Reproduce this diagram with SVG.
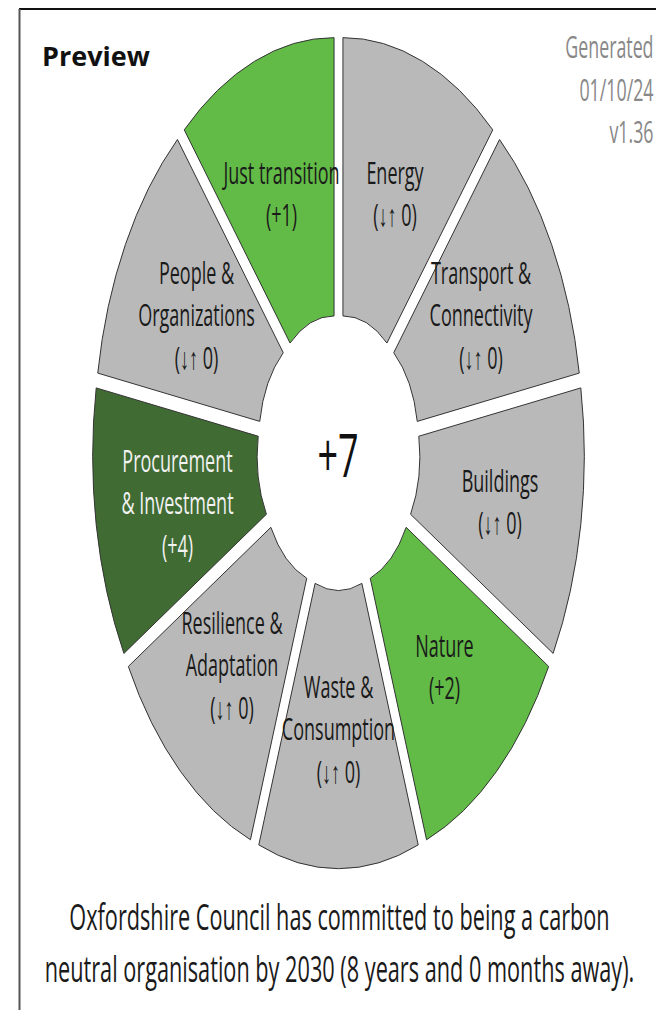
<svg xmlns="http://www.w3.org/2000/svg" width="656" height="1010" viewBox="0 0 656 1010">
<style>
.seg{stroke:#333;stroke-width:1;stroke-linejoin:miter}
.grey{fill:#b9b9b9}
.lg{fill:#62bb47}
.dg{fill:#406c34}
.lbl{font-family:"Open Sans","Liberation Sans",sans-serif;font-size:18px;text-anchor:middle;fill:#1a1a1a}
.lblw{fill:#f2f2f2}
.meta{font-family:"Open Sans","Liberation Sans",sans-serif;font-size:17.8px;text-anchor:end;fill:#888}
.foot{font-family:"Open Sans","Liberation Sans",sans-serif;font-size:21.7px;text-anchor:middle;fill:#1a1a1a}
</style>
<rect x="0" y="0" width="656" height="1010" fill="#fff"/>
<line x1="19" y1="9" x2="656" y2="9" stroke="#111" stroke-width="2.2"/>
<line x1="19.5" y1="9" x2="19.5" y2="1010" stroke="#555" stroke-width="2"/>
<text x="42" y="66" font-family="Open Sans, Liberation Sans, sans-serif" font-size="27" font-weight="bold" fill="#111">Preview</text>
<g transform="translate(653.5,58) scale(1,1.692)">
<text class="meta"><tspan x="0" y="0">Generated</tspan><tspan x="0" y="25.2">01/10/24</tspan><tspan x="0" y="50.1">v1.36</tspan></text>
</g>
<g id="connectors"></g>
<g id="energy">
<path class="seg grey" d="M342.95,37.63 A233,394.2 0 0 1 492.75,129.83 L386.95,343.03 A68.5,115.9 0 0 0 342.95,315.93 Z"/>
<g transform="translate(395,184) scale(1,1.692)"><text class="lbl"><tspan x="0" y="0">Energy</tspan><tspan x="0" y="25">(↓↑ 0)</tspan></text></g>
</g>
<g id="transport">
<path class="seg grey" d="M499.56,139.5 A233,394.2 0 0 1 579.26,373.1 L417.26,421.4 A68.5,115.9 0 0 0 393.76,352.7 Z"/>
<g transform="translate(481,284) scale(1,1.692)"><text class="lbl"><tspan x="0" y="0">Transport &amp;</tspan><tspan x="0" y="25">Connectivity</tspan><tspan x="0" y="50">(↓↑ 0)</tspan></text></g>
</g>
<g id="buildings">
<path class="seg grey" d="M580.8,387.92 A233,394.2 0 0 1 553.1,653.42 L410.6,514.27 A68.5,115.9 0 0 0 418.8,436.22 Z"/>
<g transform="translate(500,492) scale(1,1.692)"><text class="lbl"><tspan x="0" y="0">Buildings</tspan><tspan x="0" y="25">(↓↑ 0)</tspan></text></g>
</g>
<g id="nature">
<path class="seg lg" d="M548.66,666.45 A233,394.2 0 0 1 426.56,839.75 L370.26,578.25 A68.5,115.9 0 0 0 406.16,527.3 Z"/>
<g transform="translate(444.5,657) scale(1,1.692)"><text class="lbl"><tspan x="0" y="0">Nature</tspan><tspan x="0" y="25">(+2)</tspan></text></g>
</g>
<g id="waste">
<path class="seg grey" d="M418.2,844.9 A233,394.2 0 0 1 258.8,844.9 L315.1,583.4 A68.5,115.9 0 0 0 361.9,583.4 Z"/>
<g transform="translate(338.5,698) scale(1,1.692)"><text class="lbl"><tspan x="0" y="0">Waste &amp;</tspan><tspan x="0" y="25">Consumption</tspan><tspan x="0" y="50">(↓↑ 0)</tspan></text></g>
</g>
<g id="resilience">
<path class="seg grey" d="M250.44,839.75 A233,394.2 0 0 1 128.34,666.45 L270.84,527.3 A68.5,115.9 0 0 0 306.74,578.25 Z"/>
<g transform="translate(232,634) scale(1,1.692)"><text class="lbl"><tspan x="0" y="0">Resilience &amp;</tspan><tspan x="0" y="25">Adaptation</tspan><tspan x="0" y="50">(↓↑ 0)</tspan></text></g>
</g>
<g id="procurement">
<path class="seg dg" d="M123.9,653.42 A233,394.2 0 0 1 96.2,387.92 L258.2,436.22 A68.5,115.9 0 0 0 266.4,514.27 Z"/>
<g transform="translate(177.5,472) scale(1,1.692)"><text class="lbl lblw"><tspan x="0" y="0">Procurement</tspan><tspan x="0" y="25">&amp; Investment</tspan><tspan x="0" y="50">(+4)</tspan></text></g>
</g>
<g id="people">
<path class="seg grey" d="M97.74,373.1 A233,394.2 0 0 1 177.44,139.5 L283.24,352.7 A68.5,115.9 0 0 0 259.74,421.4 Z"/>
<g transform="translate(196.5,284) scale(1,1.692)"><text class="lbl"><tspan x="0" y="0">People &amp;</tspan><tspan x="0" y="25">Organizations</tspan><tspan x="0" y="50">(↓↑ 0)</tspan></text></g>
</g>
<g id="just-transition">
<path class="seg lg" d="M184.25,129.83 A233,394.2 0 0 1 334.05,37.63 L334.05,315.93 A68.5,115.9 0 0 0 290.05,343.03 Z"/>
<g transform="translate(281.5,184) scale(1,1.692)"><text class="lbl"><tspan x="0" y="0">Just transition</tspan><tspan x="0" y="25">(+1)</tspan></text></g>
</g>
<g id="total">
<g transform="translate(338,477) scale(1,1.692)"><text x="0" y="0" font-family="Open Sans, Liberation Sans, sans-serif" font-size="36" text-anchor="middle" fill="#111">+7</text></g>
</g>
<g id="footer" transform="translate(339.5,930) scale(1,1.692)">
<text class="foot"><tspan x="0" y="0">Oxfordshire Council has committed to being a carbon</tspan><tspan x="0" y="30.7">neutral organisation by 2030 (8 years and 0 months away).</tspan></text>
</g>
</svg>
